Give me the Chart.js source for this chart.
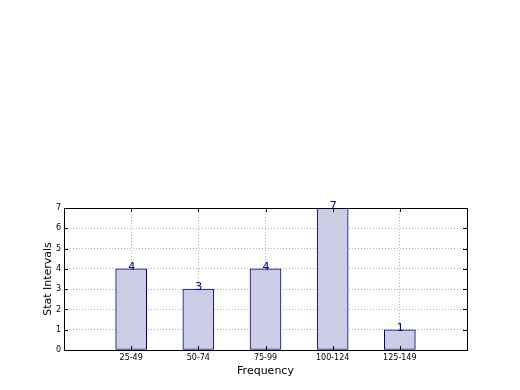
<!DOCTYPE html>
<html>
<head>
<meta charset="utf-8">
<script src="https://cdn.jsdelivr.net/npm/chart.js@4/dist/chart.umd.min.js"></script>
<style>
  html, body { margin: 0; padding: 0; background: #fff; }
  canvas { display: block; }
</style>
</head>
<body>
<canvas id="chart" width="520" height="390"></canvas>
<script>
const categories = ['25-49', '50-74', '75-99', '100-124', '125-149'];
const counts = [4, 3, 4, 7, 1];
const yMax = 7;

// empty slots either side so the bars sit one step in from the frame
const labels = ['', ...categories, ''];
const values = [null, ...counts, null];

const FONT = "'DejaVu Sans', sans-serif";

const framePlugin = {
  id: 'frame',
  afterDraw(chart) {
    const { ctx, chartArea: a, scales } = chart;
    ctx.save();

    // inward tick marks on all four sides
    ctx.strokeStyle = '#000';
    ctx.lineWidth = 1;
    ctx.beginPath();
    for (let v = 0; v <= yMax; v++) {
      const y = Math.round(scales.y.getPixelForValue(v)) + 0.5;
      ctx.moveTo(a.left, y); ctx.lineTo(a.left + 4, y);
      ctx.moveTo(a.right, y); ctx.lineTo(a.right - 4, y);
    }
    for (let i = 1; i <= categories.length; i++) {
      const x = Math.round(scales.x.getPixelForValue(i)) + 0.5;
      ctx.moveTo(x, a.bottom); ctx.lineTo(x, a.bottom - 4);
      ctx.moveTo(x, a.top); ctx.lineTo(x, a.top + 4);
    }
    ctx.stroke();

    ctx.strokeRect(Math.round(a.left) + 0.5, Math.round(a.top) + 0.5,
      Math.round(a.right - a.left), Math.round(a.bottom - a.top));

    // value labels on top of the bars
    ctx.fillStyle = '#000080';
    ctx.font = '11px ' + FONT;
    ctx.textAlign = 'center';
    ctx.textBaseline = 'alphabetic';
    chart.getDatasetMeta(0).data.forEach((bar, i) => {
      if (values[i] == null) return;
      ctx.fillText(String(values[i]), bar.x + 0.5, bar.y + 1);
    });
    ctx.restore();
  }
};

new Chart(document.getElementById('chart'), {
  type: 'bar',
  data: {
    labels: labels,
    datasets: [{
      data: values,
      backgroundColor: 'rgb(204, 204, 228)',
      borderColor: '#000080',
      borderWidth: 1,
      borderSkipped: false,
      barThickness: 31
    }]
  },
  options: {
    responsive: false,
    animation: false,
    devicePixelRatio: 1,
    layout: { padding: { top: 208, right: 53, left: 0, bottom: 0 } },
    plugins: {
      legend: { display: false },
      tooltip: { enabled: false }
    },
    scales: {
      x: {
        offset: false,
        z: 1,
        afterFit: s => { s.height = 40; },
        border: { display: false, dash: [1, 2] },
        grid: { offset: false, color: 'rgba(0,0,0,0.3)', drawTicks: false },
        ticks: { color: '#000', padding: 3, maxRotation: 0, autoSkip: false, font: { family: FONT, size: 8 } },
        title: { display: true, text: 'Frequency', color: '#000', padding: { top: 0, bottom: 12 }, font: { family: FONT, size: 11 } }
      },
      y: {
        min: 0,
        max: yMax,
        z: 1,
        afterFit: s => { s.width = 64; },
        border: { display: false, dash: [1, 2] },
        grid: { color: 'rgba(0,0,0,0.3)', drawTicks: false },
        ticks: { stepSize: 1, color: '#000', padding: 3, font: { family: FONT, size: 8 } },
        title: { display: true, text: 'Stat Intervals', color: '#000', padding: { top: 42, bottom: 0 }, font: { family: FONT, size: 11 } }
      }
    }
  },
  plugins: [framePlugin]
});
</script>
</body>
</html>
